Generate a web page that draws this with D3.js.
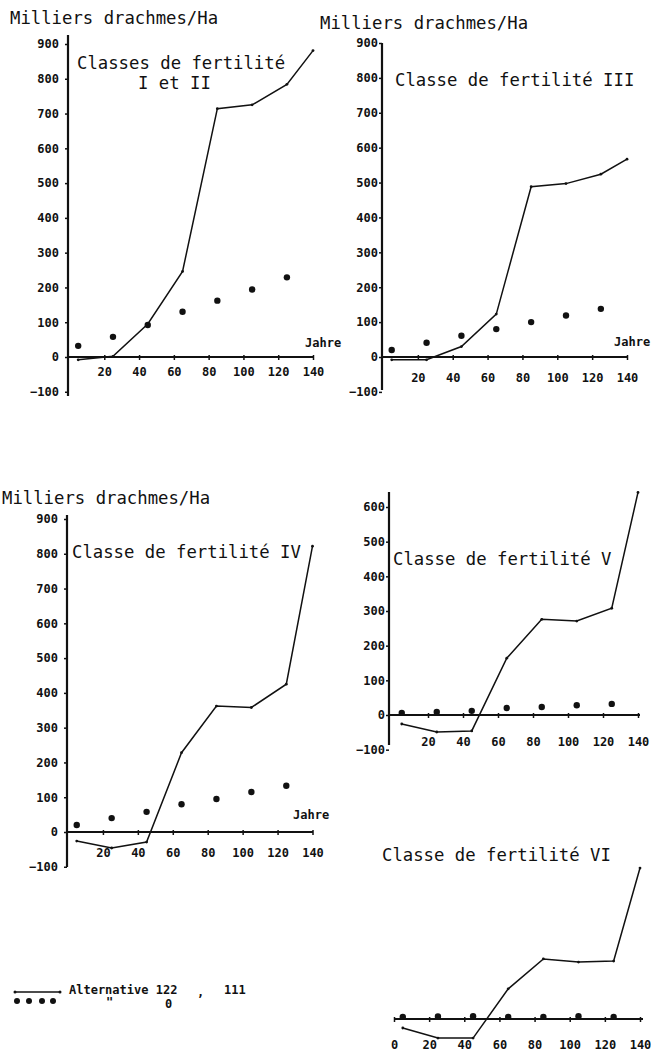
<!DOCTYPE html>
<html>
<head>
<meta charset="utf-8">
<script src="https://cdn.jsdelivr.net/npm/d3@7"></script>
<style>
  body { margin: 0; background: #fff; }
  svg { display: block; }
  .title { font-family: "DejaVu Sans Mono", monospace; font-size: 17.3px; fill: #111; }
  .tick text, .small { font-family: "DejaVu Sans Mono", monospace; font-size: 12px; font-weight: bold; fill: #111; }
  .tick line { stroke: #111; stroke-width: 1.5; }
  .axisline { stroke: #111; stroke-width: 2.2; }
  .alt122 { fill: none; stroke: #111; stroke-width: 1.5; }
</style>
</head>
<body>
<div id="chart"></div>
<script>
// Ages (Jahre) of the curve vertices and of the dots
const years = [5, 25, 45, 65, 85, 105, 125, 140];
const dotYears = [5, 25, 45, 65, 85, 105, 125];

// Milliers drachmes/Ha, alternative 122,111 (line) and alternative 0 (dots)
const lineI_II = [-8, 2, 95, 246, 714, 725, 784, 881];
const dotsI_II = [32, 58, 92, 130, 162, 194, 229];
const lineIII = [-8, -8, 30, 123, 488, 497, 524, 567];
const dotsIII = [20, 41, 61, 80, 100, 119, 138];
const lineIV = [-26, -46, -29, 228, 362, 358, 425, 822];
const dotsIV = [20, 40, 58, 80, 95, 115, 133];
const lineV = [-26, -49, -46, 164, 276, 271, 308, 642];
const dotsV = [6, 9, 12, 20, 23, 28, 32];
const lineVI = [-26, -55, -55, 87, 173, 164, 167, 435];
const dotsVI = [6, 7, 8, 6, 6, 8, 6];

// Tick labels
const yTicks900 = [-100, 0, 100, 200, 300, 400, 500, 600, 700, 800, 900];
const yTicks600 = [-100, 0, 100, 200, 300, 400, 500, 600];
const xTicks = [20, 40, 60, 80, 100, 120, 140];
const xTicksZero = [0, 20, 40, 60, 80, 100, 120, 140];

const svg = d3.select("#chart").append("svg")
  .attr("width", 651)
  .attr("height", 1051);

/**
 * Draw one panel
 */
function drawPanel(p)
{
  const x = d3.scaleLinear().domain([0, 140]).range(p.xr);
  const y = d3.scaleLinear().domain(p.yd).range(p.yr);
  const g = svg.append("g");

  // y axis
  if (p.yTicks) {
    const ya = g.append("g")
      .attr("transform", `translate(${p.ax},0)`)
      .call(d3.axisLeft(y).tickValues(p.yTicks).tickSize(3).tickPadding(p.yPad));
    ya.select(".domain").remove();
    g.append("line").attr("class", "axisline")
      .attr("x1", p.ax).attr("x2", p.ax)
      .attr("y1", p.yLine[0]).attr("y2", p.yLine[1]);
  }

  // x axis
  const xa = g.append("g")
    .attr("transform", `translate(0,${y(0)})`)
    .call(d3.axisBottom(x).tickValues(p.xTicks).tickSizeInner(3).tickSizeOuter(0).tickPadding(p.xPad));
  xa.select(".domain").remove();
  xa.selectAll(".tick line").attr("y1", -2);
  g.append("line").attr("class", "axisline")
    .attr("x1", p.xLine[0]).attr("x2", p.xLine[1])
    .attr("y1", y(0)).attr("y2", y(0));

  // alternative 122, 111
  g.append("path")
    .attr("class", "alt122")
    .attr("d", d3.line().x((d, i) => x(years[i])).y(d => y(d))(p.line));
  g.selectAll(".vtx").data(p.line).enter().append("circle")
    .attr("cx", (d, i) => x(years[i])).attr("cy", d => y(d))
    .attr("r", 1.4).attr("fill", "#111");

  // alternative 0
  g.selectAll(".dot").data(p.dots).enter().append("circle")
    .attr("cx", (d, i) => x(dotYears[i])).attr("cy", d => y(d))
    .attr("r", 3.2).attr("fill", "#111");

  // texts
  p.titles.forEach(t => {
    g.append("text").attr("class", "title")
      .attr("x", t[0]).attr("y", t[1]).text(t[2]);
  });
  if (p.jahre) {
    g.append("text").attr("class", "small")
      .attr("x", p.jahre[0]).attr("y", p.jahre[1]).text("Jahre");
  }
}

drawPanel({
  xr: [69.5, 313], ax: 68, yd: [0, 900], yr: [357, 44],
  yTicks: yTicks900, yPad: 6, yLine: [35, 396],
  xTicks: xTicks, xPad: 7, xLine: [68, 314],
  line: lineI_II, dots: dotsI_II,
  titles: [[10, 24, "Milliers drachmes/Ha"], [77, 69, "Classes de fertilité"], [138, 89, "I et II"]],
  jahre: [305, 347]
});

drawPanel({
  xr: [383, 627], ax: 382, yd: [0, 900], yr: [357, 43],
  yTicks: yTicks900, yPad: 1, yLine: [43, 390],
  xTicks: xTicks, xPad: 13, xLine: [382, 628],
  line: lineIII, dots: dotsIII,
  titles: [[320, 29, "Milliers drachmes/Ha"], [395, 86, "Classe de fertilité III"]],
  jahre: [614, 346]
});

drawPanel({
  xr: [68, 312.5], ax: 67, yd: [0, 900], yr: [832, 519],
  yTicks: yTicks900, yPad: 6, yLine: [515, 867],
  xTicks: xTicks, xPad: 13, xLine: [67, 313],
  line: lineIV, dots: dotsIV,
  titles: [[2, 504, "Milliers drachmes/Ha"], [72, 558, "Classe de fertilité IV"]],
  jahre: [293, 819]
});

drawPanel({
  xr: [393, 638], ax: 389, yd: [0, 600], yr: [715, 507],
  yTicks: yTicks600, yPad: 1, yLine: [492, 745],
  xTicks: xTicks, xPad: 19, xLine: [389, 640],
  line: lineV, dots: dotsV,
  titles: [[393, 565, "Classe de fertilité V"]]
});

drawPanel({
  xr: [394, 640], yd: [0, 100], yr: [1019, 984.3],
  yTicks: null,
  xTicks: xTicksZero, xPad: 18, xLine: [394, 643],
  line: lineVI, dots: dotsVI,
  titles: [[382, 861, "Classe de fertilité VI"]]
});

// legend
const lg = svg.append("g");
lg.append("line").attr("class", "alt122").attr("x1", 15).attr("x2", 60).attr("y1", 992).attr("y2", 992);
lg.selectAll(".ld").data([15, 60]).enter().append("circle")
  .attr("cx", d => d).attr("cy", 992).attr("r", 1.5).attr("fill", "#111");
lg.selectAll(".lp").data([17, 29, 42, 53]).enter().append("circle")
  .attr("cx", d => d).attr("cy", 1001).attr("r", 3).attr("fill", "#111");
lg.append("text").attr("class", "small").attr("x", 69).attr("y", 994).text("Alternative 122");
lg.append("text").attr("class", "small").attr("x", 197).attr("y", 996).text(",");
lg.append("text").attr("class", "small").attr("x", 224).attr("y", 994).text("111");
lg.append("text").attr("class", "small").attr("x", 106).attr("y", 1006).text("\"");
lg.append("text").attr("class", "small").attr("x", 165).attr("y", 1008).text("0");
</script>
</body>
</html>
